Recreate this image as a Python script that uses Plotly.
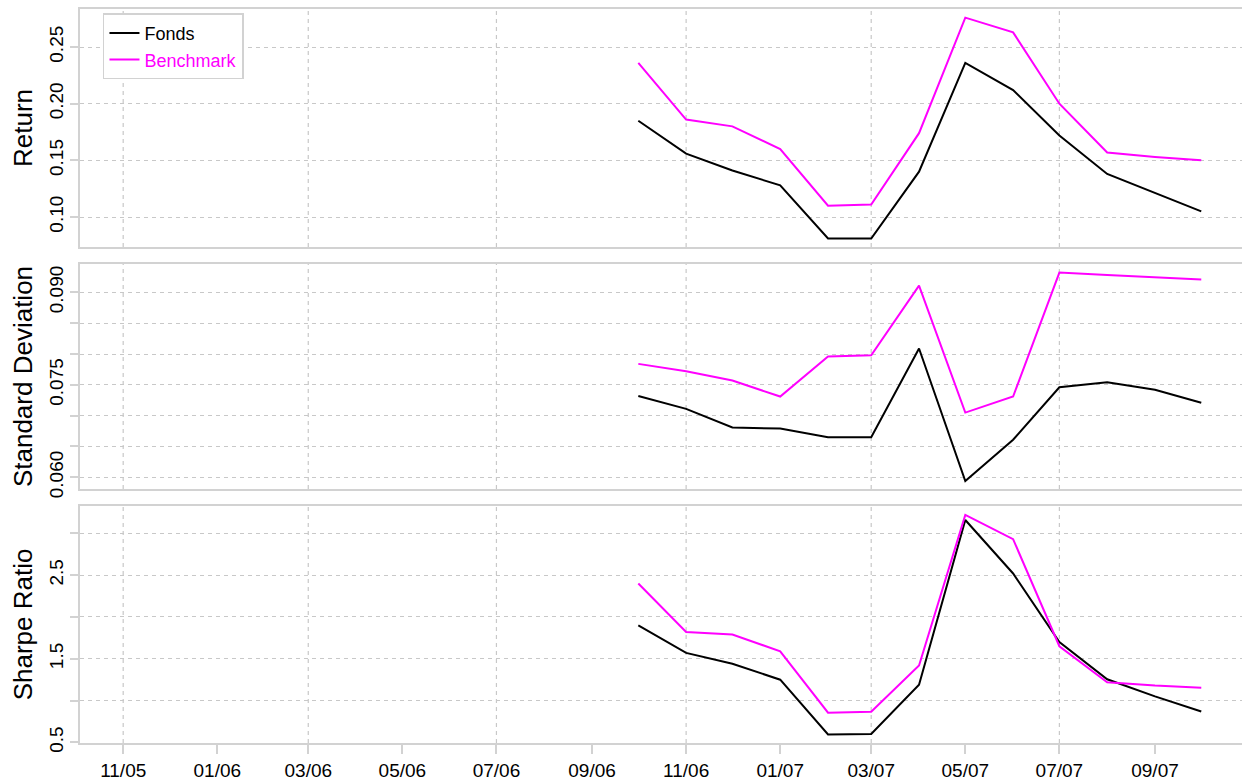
import plotly.graph_objects as go
from plotly.subplots import make_subplots

# ---- data ----
months = ["2006-10-01", "2006-11-01", "2006-12-01", "2007-01-01", "2007-02-01", "2007-03-01",
          "2007-04-01", "2007-05-01", "2007-06-01", "2007-07-01", "2007-08-01", "2007-09-01",
          "2007-10-01"]

return_fonds = [0.185, 0.156, 0.141, 0.128, 0.081, 0.081, 0.140, 0.236, 0.212, 0.172, 0.138, 0.121, 0.105]
return_bench = [0.236, 0.186, 0.180, 0.160, 0.110, 0.111, 0.174, 0.276, 0.263, 0.200, 0.157, 0.153, 0.150]

sd_fonds = [0.0732, 0.0711, 0.0681, 0.0679, 0.0665, 0.0665, 0.0809, 0.0594, 0.0661, 0.0746, 0.0754, 0.0742, 0.0721]
sd_bench = [0.0784, 0.0772, 0.0757, 0.0731, 0.0796, 0.0798, 0.0911, 0.0705, 0.0731, 0.0932, 0.0928, 0.0924, 0.0921]

sharpe_fonds = [1.90, 1.57, 1.44, 1.25, 0.595, 0.60, 1.19, 3.16, 2.52, 1.70, 1.255, 1.05, 0.87]
sharpe_bench = [2.40, 1.82, 1.79, 1.59, 0.855, 0.866, 1.42, 3.22, 2.93, 1.65, 1.22, 1.18, 1.155]

x_tick_dates = ["2005-11-01", "2006-01-01", "2006-03-01", "2006-05-01", "2006-07-01", "2006-09-01",
                "2006-11-01", "2007-01-01", "2007-03-01", "2007-05-01", "2007-07-01", "2007-09-01"]
x_tick_labels = ["11/05", "01/06", "03/06", "05/06", "07/06", "09/06",
                 "11/06", "01/07", "03/07", "05/07", "07/07", "09/07"]
x_grid_dates = ["2005-11-01", "2006-03-01", "2006-07-01", "2006-11-01", "2007-03-01", "2007-07-01"]

ret_ticks = [0.10, 0.15, 0.20, 0.25]
ret_labels = ["0.10", "0.15", "0.20", "0.25"]
sd_ticks = [0.060, 0.065, 0.070, 0.075, 0.080, 0.085, 0.090]
sd_labels = ["0.060", "", "", "0.075", "", "", "0.090"]
sh_ticks = [0.5, 1.0, 1.5, 2.0, 2.5, 3.0]
sh_labels = ["0.5", "", "1.5", "", "2.5", ""]

# ---- style ----
FONT = "Liberation Sans, Arial, Helvetica, sans-serif"
GRID = "#c8c8c8"
BORDER = "#d2d2d2"
MAGENTA = "#ff00ff"
GRID_DASH = "4px,4px"
X_RANGE = ["2005-10-04", "2007-10-30"]

fig = make_subplots(rows=3, cols=1, shared_xaxes=False)

panels = [
    (return_fonds, return_bench, "Return", [0.0735, 0.2836], ret_ticks, ret_labels, [0.6757, 1.0]),
    (sd_fonds, sd_bench, "Standard Deviation", [0.0581, 0.0946], sd_ticks, sd_labels, [0.3460, 0.6526]),
    (sharpe_fonds, sharpe_bench, "Sharpe Ratio", [0.493, 3.327], sh_ticks, sh_labels, [0.0, 0.3229]),
]

for i, (fo, be, title, yr, tv, tt, dom) in enumerate(panels, start=1):
    fig.add_trace(go.Scatter(x=months, y=fo, mode="lines", name="Fonds",
                             line=dict(color="black", width=2), showlegend=(i == 1),
                             legendrank=1), row=i, col=1)
    fig.add_trace(go.Scatter(x=months, y=be, mode="lines",
                             name="<span style='color:#ff00ff'>Benchmark</span>",
                             line=dict(color=MAGENTA, width=2), showlegend=(i == 1),
                             legendrank=2), row=i, col=1)
    fig.update_yaxes(row=i, col=1, range=yr, domain=dom, tickmode="array", tickvals=tv, ticktext=tt,
                     tickangle=-90, ticks="outside", ticklen=8, tickcolor=BORDER, tickwidth=1.5,
                     showgrid=True, gridcolor=GRID, griddash=GRID_DASH, gridwidth=1.2,
                     showline=True, linecolor=BORDER, linewidth=1.5, mirror=False,
                     zeroline=False, tickfont=dict(size=19, color="black", family=FONT),
                     title=dict(text=title, font=dict(size=26, color="black", family=FONT), standoff=6))
    is_bottom = (i == 3)
    fig.update_xaxes(row=i, col=1, type="date", range=X_RANGE, tickmode="array",
                     tickvals=x_tick_dates, ticktext=x_tick_labels,
                     showticklabels=is_bottom, ticks="outside" if is_bottom else "",
                     ticklen=9, tickcolor=BORDER, tickwidth=1.5,
                     showgrid=False, zeroline=False,
                     showline=True, linecolor=BORDER, linewidth=1.5, mirror=True,
                     tickfont=dict(size=19, color="black", family=FONT))
    for gd in x_grid_dates:
        fig.add_vline(x=gd, row=i, col=1, layer="below",
                      line=dict(color=GRID, width=1.2, dash=GRID_DASH))

fig.update_layout(
    width=1246, height=781,
    margin=dict(l=80, r=0, t=9, b=38, autoexpand=False),
    plot_bgcolor="white", paper_bgcolor="white",
    font=dict(family=FONT, color="black"),
    legend=dict(x=0.0197, y=0.994, xanchor="left", yanchor="top",
                bgcolor="white", bordercolor=BORDER, borderwidth=1.5,
                font=dict(size=18, family=FONT, color="black"),
                itemwidth=30, tracegroupgap=0),
)

fig.write_html("out.html", config={"displayModeBar": False},
               post_script="document.body.style.margin='0';document.body.style.overflow='hidden';")
